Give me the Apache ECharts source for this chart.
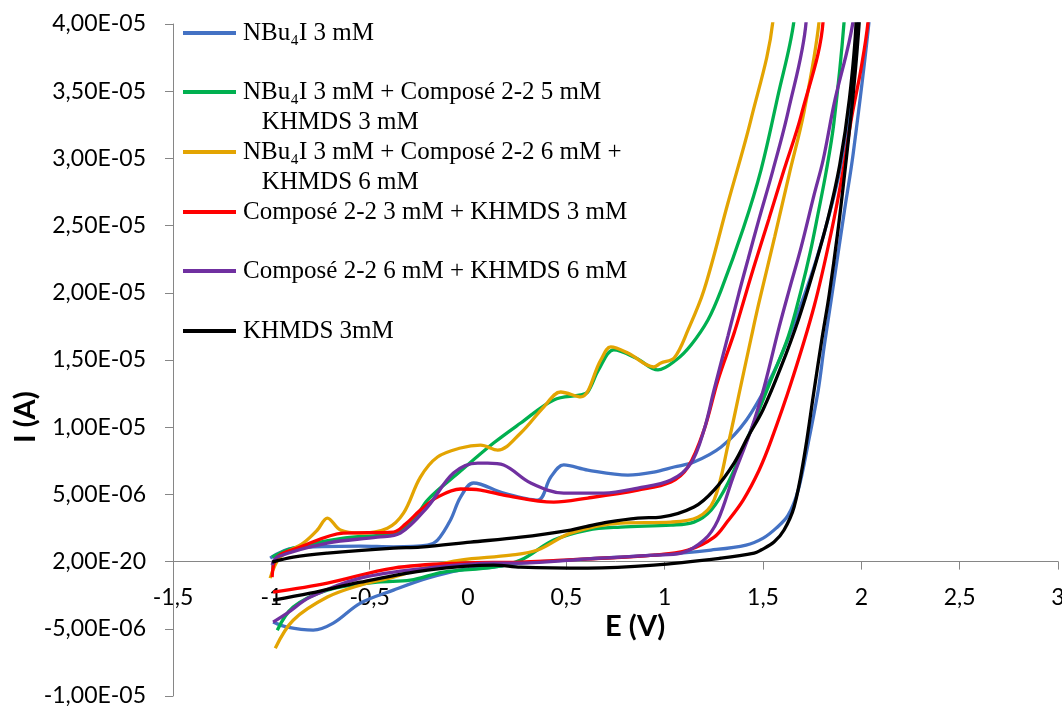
<!DOCTYPE html>
<html>
<head>
<meta charset="utf-8">
<script src="https://cdn.jsdelivr.net/npm/echarts@6/dist/echarts.min.js"></script>
<style>
html,body{margin:0;padding:0;background:#fff;}
#chart{width:1062px;height:706px;}
</style>
</head>
<body>
<div id="chart"></div>
<script>
// ---- data (E in V, I in µA = 1e-6 A) ----
const seriesNames = [
  'NBu₄I 3 mM',
  'NBu₄I 3 mM + Composé 2-2 5 mM\n   KHMDS 3 mM',
  'NBu₄I 3 mM + Composé 2-2 6 mM +\n   KHMDS 6 mM',
  'Composé 2-2 3 mM + KHMDS 3 mM',
  'Composé 2-2 6 mM + KHMDS 6 mM',
  'KHMDS 3mM'
];
const xTickLabels = ['-1,5','-1','-0,5','0','0,5','1','1,5','2','2,5','3'];
const yTickLabels = ['-1,00E-05','-5,00E-06','2,00E-20','5,00E-06','1,00E-05','1,50E-05','2,00E-05','2,50E-05','3,00E-05','3,50E-05','4,00E-05'];

const blueLower = [[-0.991,-4.50],[-0.919,-4.88],[-0.787,-5.10],[-0.685,-4.58],[-0.547,-3.09],[-0.379,-2.12],[-0.206,-1.23],[-0.038,-0.63],[0.130,-0.41],[0.268,-0.11],[0.609,0.2],[0.945,0.48],[1.236,0.86],[1.414,1.23],[1.501,1.75],[1.567,2.49],[1.628,3.46],[1.679,5.32],[1.730,8.82],[1.781,12.77],[1.811,16.0],[1.847,19.5],[1.913,26.0],[1.959,30.4],[2.040,40.3],[2.07,46]];
const blueUpper = [[1.995,46],[1.985,40.3],[1.95,34.8],[1.90,29.8],[1.84,26.0],[1.77,22.4],[1.70,19.4],[1.62,16.3],[1.541,13.7],[1.414,10.5],[1.287,8.53],[1.149,7.41],[1.048,7.04],[0.945,6.66],[0.813,6.44],[0.609,6.81],[0.487,7.19],[0.421,6.29],[0.354,4.58],[0.181,5.10],[0.028,5.85],[-0.038,4.80],[-0.089,3.1],[-0.155,1.60],[-0.206,1.23],[-0.379,1.10],[-0.547,1.15],[-0.889,1.0],[-1.006,0.26]];

const greenLower = [[-0.970,-5.10],[-0.889,-3.39],[-0.715,-2.12],[-0.461,-1.53],[-0.293,-1.38],[-0.125,-0.78],[0.130,-0.41],[0.268,0.11],[0.436,1.60],[0.609,2.35],[0.777,2.57],[1.032,2.72],[1.149,2.94],[1.236,3.83],[1.322,5.85],[1.424,9.27],[1.541,13.52],[1.628,16.72],[1.694,20.2],[1.74,23.0],[1.78,25.9],[1.821,29.0],[1.86,32.6],[1.913,40.3],[1.93,46]];
const greenUpper = [[1.675,46],[1.658,40.3],[1.575,34.6],[1.49,29.15],[1.40,24.8],[1.287,20.2],[1.220,17.98],[1.134,16.12],[1.058,15.0],[0.966,14.26],[0.854,15.15],[0.741,15.75],[0.665,14.3],[0.609,12.62],[0.573,12.40],[0.436,12.03],[0.268,10.31],[0.130,8.82],[-0.038,6.74],[-0.206,4.58],[-0.277,3.09],[-0.379,2.12],[-0.634,1.75],[-0.889,1.0],[-0.996,0.34]];

const yellowLower = [[-0.980,-6.44],[-0.889,-4.36],[-0.715,-2.64],[-0.547,-1.75],[-0.379,-1.15],[-0.206,-0.41],[-0.038,0.11],[0.217,0.48],[0.354,0.86],[0.522,2.12],[0.777,2.87],[1.032,2.94],[1.169,3.31],[1.251,4.58],[1.322,8.67],[1.388,13.14],[1.439,16.6],[1.480,19.3],[1.56,24.2],[1.633,28.8],[1.709,33.5],[1.786,40.3],[1.80,46]];
const yellowUpper = [[1.565,46],[1.551,40.3],[1.439,32.9],[1.322,26.7],[1.200,20.2],[1.119,17.24],[1.048,15.15],[0.981,14.78],[0.945,14.48],[0.813,15.52],[0.726,15.97],[0.675,15.0],[0.573,12.25],[0.471,12.62],[0.385,11.50],[0.268,9.57],[0.151,8.30],[0.064,8.67],[-0.038,8.45],[-0.155,7.78],[-0.242,6.29],[-0.328,3.61],[-0.410,2.49],[-0.547,2.12],[-0.649,2.35],[-0.715,3.24],[-0.766,2.35],[-0.838,1.38],[-0.955,0.34],[-1.006,-1.23]];

const redLower = [[-0.991,-2.27],[-0.715,-1.60],[-0.379,-0.48],[-0.038,-0.11],[0.268,-0.04],[0.609,0.2],[0.945,0.48],[1.119,0.86],[1.25,1.8],[1.32,3.0],[1.40,4.6],[1.48,6.8],[1.541,9.0],[1.643,13.3],[1.760,19.0],[1.847,24.5],[1.908,29.15],[1.95,33.0],[2.000,36.8],[2.035,40.3],[2.06,46]];
const redUpper = [[1.815,46],[1.806,40.3],[1.694,33.2],[1.607,29.15],[1.53,25.5],[1.455,22.0],[1.40,19.3],[1.353,17.0],[1.271,13.5],[1.200,9.79],[1.119,7.04],[1.032,5.92],[0.864,5.32],[0.609,4.73],[0.436,4.43],[0.181,4.95],[0.064,5.32],[-0.038,5.40],[-0.155,4.80],[-0.242,3.83],[-0.318,2.79],[-0.379,2.20],[-0.634,2.12],[-0.853,1.08],[-0.970,0.34],[-0.996,-1.15]];

const purpleLower = [[-0.991,-4.50],[-0.919,-3.83],[-0.802,-2.64],[-0.547,-1.23],[-0.206,-0.48],[0.130,-0.11],[0.268,-0.11],[0.609,0.2],[0.945,0.48],[1.083,0.63],[1.200,1.60],[1.271,3.09],[1.348,6.29],[1.439,9.79],[1.506,13.0],[1.583,17.5],[1.633,20.2],[1.694,23.4],[1.760,27.3],[1.806,29.9],[1.862,34.1],[1.959,40.3],[1.98,46]];
const purpleUpper = [[1.73,46],[1.720,40.3],[1.628,33.5],[1.551,29.15],[1.48,25.5],[1.424,22.5],[1.378,20.0],[1.322,16.8],[1.251,12.77],[1.200,9.79],[1.134,7.33],[1.032,6.07],[0.864,5.47],[0.690,5.10],[0.487,5.10],[0.319,5.85],[0.181,7.19],[0.100,7.33],[0.049,7.33],[-0.074,6.59],[-0.206,4.06],[-0.344,2.12],[-0.461,1.82],[-0.715,1.38],[-0.970,0.34],[-0.996,-0.26]];

const blackLower = [[-0.991,-2.87],[-0.802,-2.35],[-0.547,-1.53],[-0.206,-0.63],[0.130,-0.26],[0.268,-0.41],[0.609,-0.48],[0.945,-0.26],[1.287,0.26],[1.455,0.63],[1.490,0.86],[1.556,1.45],[1.607,2.35],[1.658,4.06],[1.709,7.78],[1.760,12.77],[1.80,16.6],[1.837,19.9],[1.88,24.5],[1.92,29.5],[1.960,35.0],[1.990,40.3],[2.01,46]];
const blackUpper = [[1.98,46],[1.974,40.3],[1.94,34.5],[1.89,29.5],[1.83,25.5],[1.756,21.6],[1.68,18.0],[1.592,14.5],[1.50,11.3],[1.424,9.3],[1.353,7.33],[1.251,5.32],[1.149,4.06],[0.981,3.31],[0.864,3.24],[0.711,2.94],[0.60,2.6],[0.522,2.35],[0.268,1.82],[0.013,1.45],[-0.242,1.08],[-0.379,1.0],[-0.715,0.63],[-0.889,0.34],[-0.996,-0.04]];

// ---- build ----
const curves = [
  blueLower.concat(blueUpper),
  greenLower.concat(greenUpper),
  yellowLower.concat(yellowUpper),
  redLower.concat(redUpper),
  purpleLower.concat(purpleUpper),
  blackLower.concat(blackUpper)
];
const colors = ['#4472C4','#00B050','#E3A402','#FF0000','#7030A0','#000000'];
const legendCenters = [33, 92, 152, 212, 271, 331];

const axisColor = '#868686';
const tickFont = 'Lato, "Liberation Sans", sans-serif';
const gridTop = 24, gridBottom = 10, chartH = 706;
const yMin = -10, yMax = 40;
const plotH = chartH - gridTop - gridBottom;
const zeroOffset = -plotH * (0 - yMin) / (yMax - yMin);

const chart = echarts.init(document.getElementById('chart'), null, {renderer:'canvas'});

const legends = seriesNames.map((name, i) => {
  const twoLine = name.indexOf('\n') >= 0;
  return {
    data: [name],
    left: 183,
    top: twoLine ? legendCenters[i] - 45 : legendCenters[i] - 15,
    padding: 0,
    icon: 'rect',
    itemWidth: 53,
    itemHeight: 4,
    selectedMode: false,
    formatter: (n) => (n.indexOf('\n') >= 0 ? '\n' + n : n),
    textStyle: {
      fontFamily: '"Liberation Serif", serif',
      fontSize: 25,
      color: '#000',
      lineHeight: 30,
      padding: [0, 0, 0, 2]
    }
  };
});

const option = {
  animation: false,
  backgroundColor: '#ffffff',
  grid: {left: 173, right: 4, top: gridTop, bottom: gridBottom, containLabel: false, outerBoundsMode: 'none'},
  legend: legends,
  xAxis: {
    type: 'value', min: -1.5, max: 3, interval: 0.5,
    position: 'bottom',
    offset: zeroOffset,
    axisLine: {onZero: false, lineStyle: {color: axisColor, width: 1}},
    axisTick: {show: true, length: 8, lineStyle: {color: axisColor}},
    splitLine: {show: false},
    axisLabel: {
      margin: 24, color: '#000', fontFamily: tickFont, fontSize: 23,
      hideOverlap: false,
      formatter: (v) => xTickLabels[Math.round((v + 1.5) / 0.5)]
    }
  },
  yAxis: {
    type: 'value', min: yMin, max: yMax, interval: 5,
    axisLine: {show: true, onZero: false, lineStyle: {color: axisColor, width: 1}},
    axisTick: {show: true, length: 8, lineStyle: {color: axisColor}},
    splitLine: {show: false},
    axisLabel: {
      margin: 27, color: '#000', fontFamily: tickFont, fontSize: 23,
      formatter: (v) => yTickLabels[Math.round((v - yMin) / 5)]
    }
  },
  graphic: [
    {type: 'text', left: 605, top: 612, style: {text: 'E (V)', font: 'bold 29px Lato, "Liberation Sans", sans-serif', fill: '#000'}},
    {type: 'text', x: 11, y: 443, rotation: Math.PI / 2, style: {text: 'I (A)', font: 'bold 29px Lato, "Liberation Sans", sans-serif', fill: '#000', textVerticalAlign: 'top'}}
  ],
  series: curves.map((d, i) => ({
    name: seriesNames[i],
    type: 'line',
    data: d,
    symbol: 'none',
    smooth: 0.35,
    clip: true,
    color: colors[i],
    lineStyle: {color: colors[i], width: 3.3},
    emphasis: {disabled: true},
    z: 2 + i
  }))
};
chart.setOption(option);
</script>
</body>
</html>
